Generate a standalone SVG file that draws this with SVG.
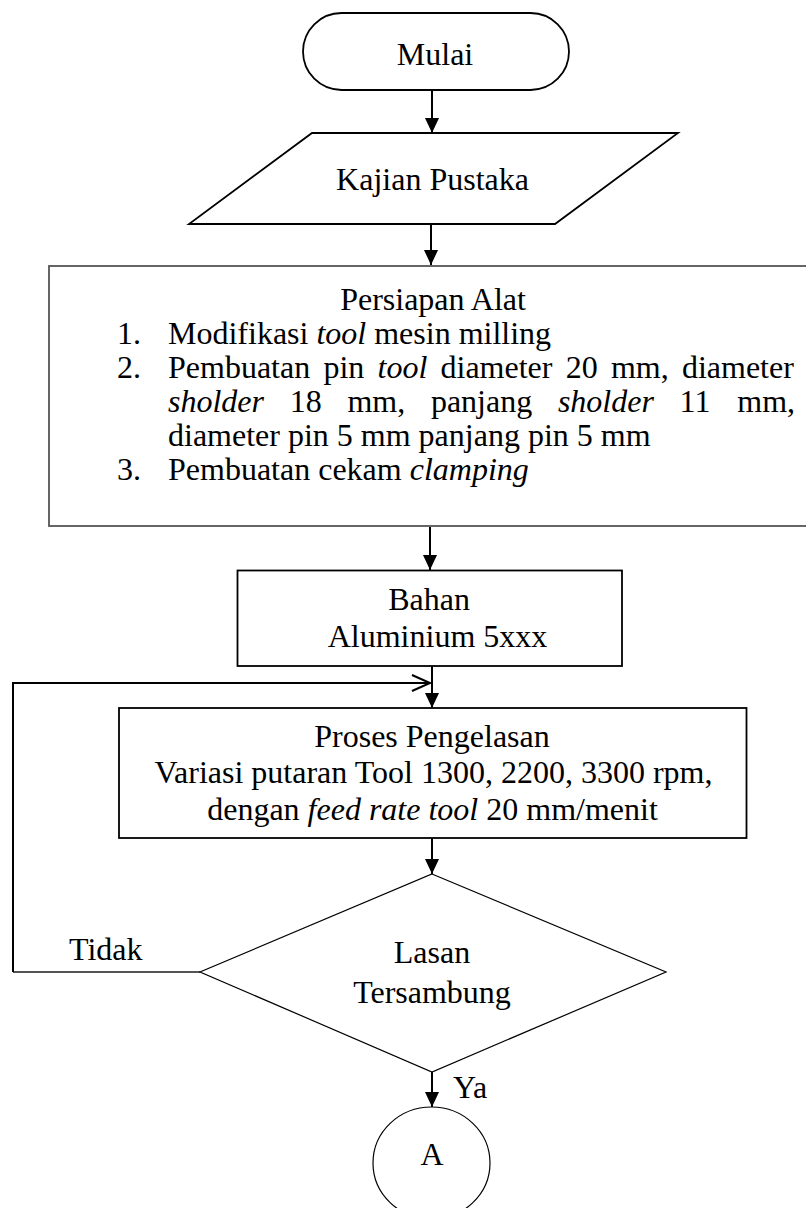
<svg xmlns="http://www.w3.org/2000/svg" width="806" height="1208" viewBox="0 0 806 1208">
<style>
text{font-family:"Liberation Serif","Times New Roman",serif;font-size:32px;fill:#000}
.c{text-anchor:middle}
.i{font-style:italic}
.n{fill:#fff;stroke:#000;stroke-width:1.8}
.thin{fill:#fff;stroke:#000;stroke-width:1.2}
.grey{fill:#fff;stroke:#555;stroke-width:1.8}
.ln{fill:none;stroke:#000;stroke-width:2}
</style>
<defs>
<marker id="ah" markerUnits="userSpaceOnUse" markerWidth="16" markerHeight="14" refX="15" refY="7" orient="auto">
<path d="M0,0 L15,7 L0,14 z" fill="#000"/>
</marker>
<marker id="oh" markerUnits="userSpaceOnUse" markerWidth="22" markerHeight="20" refX="19" refY="9" orient="auto">
<path d="M1,1 L19,9 L1,17" fill="none" stroke="#000" stroke-width="2"/>
</marker>
</defs>
<g id="connectors">
<line class="ln" x1="432" y1="90" x2="432" y2="133" marker-end="url(#ah)"/>
<line class="ln" x1="431" y1="224" x2="431" y2="265" marker-end="url(#ah)"/>
<line class="ln" x1="430" y1="527" x2="430" y2="570" marker-end="url(#ah)"/>
<line class="ln" x1="432" y1="666" x2="432" y2="708" marker-end="url(#ah)"/>
<line class="ln" x1="432" y1="838" x2="432" y2="874" marker-end="url(#ah)"/>
<line class="ln" x1="432" y1="1072" x2="432" y2="1107" marker-end="url(#ah)"/>
<line x1="200" y1="972" x2="13" y2="972" stroke="#555" stroke-width="1.8"/>
<polyline class="ln" points="13,972 13,683 430,683" marker-end="url(#oh)"/>
<text x="69" y="960">Tidak</text>
<text x="453" y="1098">Ya</text>
</g>
<g id="mulai">
<rect class="n" x="303" y="13" width="266" height="77" rx="38.5" ry="38.5"/>
<text class="c" x="435" y="65">Mulai</text>
</g>
<g id="kajian">
<polygon class="n" points="312,133 678,133 555,224 189,224"/>
<text class="c" x="432.5" y="190">Kajian Pustaka</text>
</g>
<g id="persiapan">
<rect class="grey" x="49" y="266" width="770" height="260"/>
<text class="c" x="433" y="310">Persiapan Alat</text>
<text x="117" y="344">1.</text>
<text x="168" y="344">Modifikasi <tspan class="i">tool</tspan> mesin milling</text>
<text x="117" y="378">2.</text>
<text y="378"><tspan x="168">Pembuatan</tspan><tspan x="323.4">pin</tspan><tspan x="377.5" class="i">tool</tspan><tspan x="440.5">diameter</tspan><tspan x="565.7">20</tspan><tspan x="610.9">mm,</tspan><tspan x="681.9">diameter</tspan></text>
<text y="412"><tspan x="168" class="i">sholder</tspan><tspan x="289.7">18</tspan><tspan x="347.4">mm,</tspan><tspan x="430.9">panjang</tspan><tspan x="557.9" class="i">sholder</tspan><tspan x="679.6">11</tspan><tspan x="737.3">mm,</tspan></text>
<text x="168" y="446">diameter pin 5 mm panjang pin 5 mm</text>
<text x="117" y="480">3.</text>
<text x="168" y="480">Pembuatan cekam <tspan class="i">clamping</tspan></text>
</g>
<g id="bahan">
<rect class="n" x="237.5" y="570.5" width="384.5" height="95.5"/>
<text class="c" x="429" y="610">Bahan</text>
<text class="c" x="437.5" y="647">Aluminium 5xxx</text>
</g>
<g id="proses">
<rect class="n" x="119" y="708" width="627.5" height="130"/>
<text class="c" x="432" y="747">Proses Pengelasan</text>
<text class="c" x="433.5" y="783">Variasi putaran Tool 1300, 2200, 3300 rpm,</text>
<text class="c" x="432.5" y="820">dengan <tspan class="i">feed rate tool</tspan> 20 mm/menit</text>
</g>
<g id="lasan">
<polygon class="thin" points="432,874 666,972 432,1072 200,972"/>
<text class="c" x="432" y="963">Lasan</text>
<text class="c" x="432" y="1003">Tersambung</text>
</g>
<g id="a">
<ellipse class="thin" cx="431.5" cy="1163" rx="58.5" ry="56"/>
<text class="c" x="432" y="1165">A</text>
</g>
</svg>
